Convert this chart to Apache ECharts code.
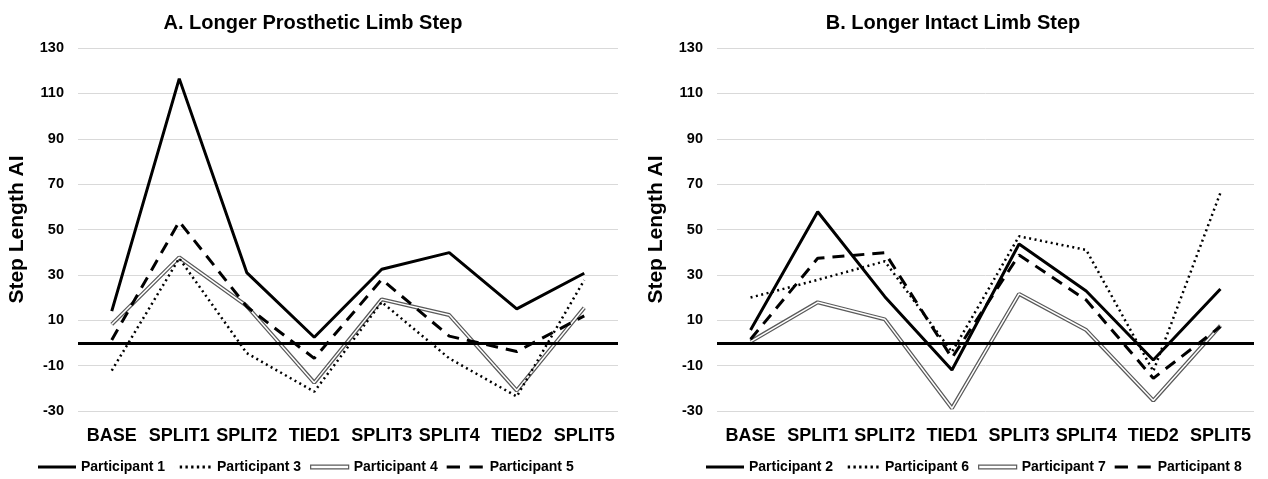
<!DOCTYPE html>
<html>
<head>
<meta charset="utf-8">
<script src="https://cdn.jsdelivr.net/npm/echarts@6/dist/echarts.min.js"></script>
<style>html,body{margin:0;padding:0;background:#fff}#c{width:1268px;height:479px}</style>
</head>
<body>
<div id="c"></div>
<script>
var categories = ['BASE','SPLIT1','SPLIT2','TIED1','SPLIT3','SPLIT4','TIED2','SPLIT5'];
var yTicks = [-30,-10,10,30,50,70,90,110,130];
// Panel A
var p1 = [14, 116.5, 31, 2.5, 32.5, 39.8, 15, 30.7];
var p3 = [-12.2, 37.3, -4.5, -21.5, 18, -6.8, -23.6, 27.7];
var p4 = [8.2, 37.7, 16.3, -17.5, 19.2, 12.3, -21, 15.5];
var p5 = [1.3, 53.5, 16, -6.8, 28, 3, -3.8, 11.9];
// Panel B
var p2 = [5.7, 57.8, 20.4, -11.9, 43.6, 22.9, -7.5, 23.8];
var p6 = [20, 27.8, 36, -4, 47, 41, -12.5, 66.2];
var p7 = [0.6, 17.9, 10.4, -28.8, 21.6, 5.7, -25.4, 7.6];
var p8 = [1.6, 37.3, 39.8, -6.6, 38.8, 18.9, -15.6, 7.2];

var FONT = 'Liberation Sans';
var chart = echarts.init(document.getElementById('c'));

function xAx(i){
  return {type:'category', gridIndex:i, data:categories, boundaryGap:true,
    axisLine:{show:false}, axisTick:{show:false},
    axisLabel:{interval:0, margin:16, fontFamily:FONT, fontWeight:'bold', fontSize:18, color:'#000'}};
}
function yAx(i){
  return {type:'value', gridIndex:i, min:-30, max:130, interval:20,
    name:'Step Length AI', nameLocation:'middle', nameGap:50,
    nameTextStyle:{fontFamily:FONT, fontWeight:'bold', fontSize:21, color:'#000'},
    axisLine:{show:false}, axisTick:{show:false, customValues:yTicks},
    axisLabel:{customValues:yTicks, margin:14, fontFamily:FONT, fontWeight:'bold', fontSize:14.5, color:'#000'},
    splitLine:{show:true, lineStyle:{color:'#d9d9d9', width:1}}};
}
function solid(name, data, i, withZero){
  var s = {name:name, type:'line', xAxisIndex:i, yAxisIndex:i, data:data, symbol:'none', z:5,
    lineStyle:{color:'#000', width:3}, itemStyle:{color:'#000'}};
  if (withZero) {
    s.markLine = {silent:true, symbol:'none', label:{show:false},
      lineStyle:{color:'#000', width:3, type:'solid'}, data:[{yAxis:0}]};
  }
  return s;
}
function dotted(name, data, i){
  return {name:name, type:'line', xAxisIndex:i, yAxisIndex:i, data:data, symbol:'none', z:4,
    lineStyle:{color:'#000', width:2.5, type:[2,3.5]}, itemStyle:{color:'#000'}};
}
function dashed(name, data, i){
  return {name:name, type:'line', xAxisIndex:i, yAxisIndex:i, data:data, symbol:'none', z:4,
    lineStyle:{color:'#000', width:3, type:[12,8]}, itemStyle:{color:'#000'}};
}
function dbl(name, data, i){
  return [
    {name:name, type:'line', xAxisIndex:i, yAxisIndex:i, data:data, symbol:'none', z:3,
      lineStyle:{color:'#5a5a5a', width:4}, itemStyle:{color:'#5a5a5a'}},
    {name:name+' inner', type:'line', xAxisIndex:i, yAxisIndex:i, data:data, symbol:'none', z:3.5,
      lineStyle:{color:'#fff', width:1.5}, itemStyle:{color:'#fff'}}
  ];
}
var ICON_SOLID = 'path://M0,0H40V3H0Z';
var ICON_DOT = (function(){
  var s = 'path://M0,0H0.01V3H0Z';
  for (var x = 6; x <= 38; x += 6) s += ' M' + x + ',0H' + (x + 2.5) + 'V3H' + x + 'Z';
  s += ' M39.99,0H40V3H39.99Z';
  return s;
})();
var ICON_DASH = 'path://M0,0H14V3H0Z M24,0H38V3H24Z M39.99,0H40V3H39.99Z';
var ICON_DBL = 'path://M0,0H40V4H0Z';

function legend(left, names){
  var icons = [ICON_SOLID, ICON_DOT, ICON_DBL, ICON_DASH];
  return {left:left, top:455, itemWidth:38, itemHeight:8, itemGap:9,
    textStyle:{fontFamily:FONT, fontWeight:'bold', fontSize:14, color:'#000'},
    data:names.map(function(n, k){
      if (k === 2) {
        return {name:n, icon:icons[k], itemStyle:{color:'#fff', borderColor:'#5a5a5a', borderWidth:1.2}};
      }
      return {name:n, icon:icons[k], itemStyle:{color:'#000', borderWidth:0}};
    })};
}

var series = [].concat(
  [solid('Participant 1', p1, 0, true), dotted('Participant 3', p3, 0)], dbl('Participant 4', p4, 0), [dashed('Participant 5', p5, 0)],
  [solid('Participant 2', p2, 1, true), dotted('Participant 6', p6, 1)], dbl('Participant 7', p7, 1), [dashed('Participant 8', p8, 1)]
);

chart.setOption({
  animation:false,
  title:[
    {text:'A. Longer Prosthetic Limb Step', left:308, top:8, textAlign:'center', textStyle:{fontFamily:FONT, fontWeight:'bold', fontSize:20, color:'#000'}},
    {text:'B. Longer Intact Limb Step', left:948, top:8, textAlign:'center', textStyle:{fontFamily:FONT, fontWeight:'bold', fontSize:20, color:'#000'}}
  ],
  grid:[
    {left:78, right:650, top:48, bottom:68},
    {left:717, right:14, top:48, bottom:68}
  ],
  xAxis:[xAx(0), xAx(1)],
  yAxis:[yAx(0), yAx(1)],
  legend:[
    legend(33, ['Participant 1','Participant 3','Participant 4','Participant 5']),
    legend(701, ['Participant 2','Participant 6','Participant 7','Participant 8'])
  ],
  series:series
});
</script>
</body>
</html>
